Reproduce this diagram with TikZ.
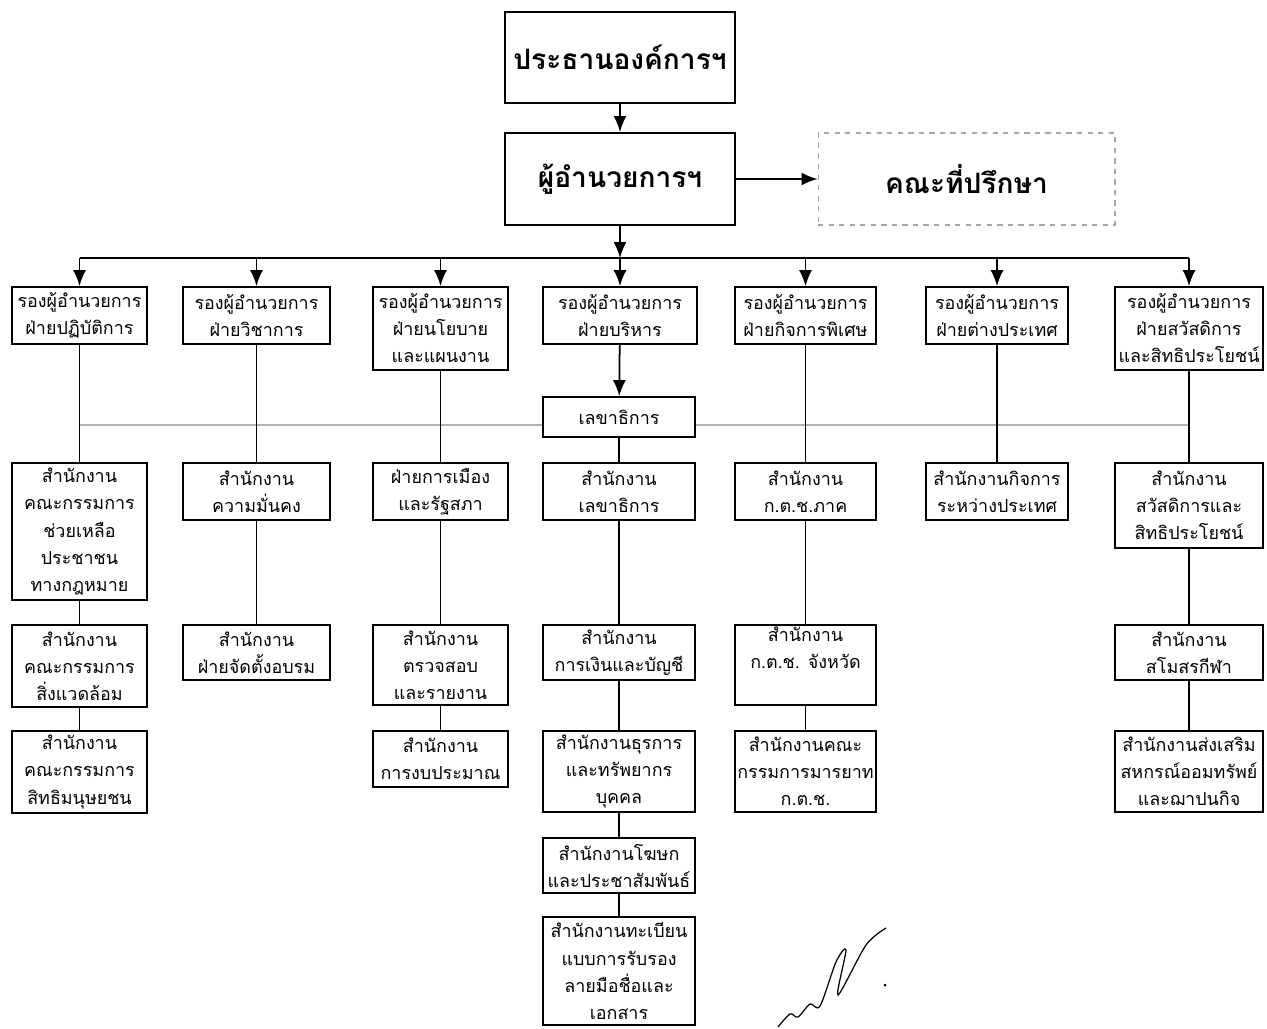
\documentclass[tikz,border=0pt]{standalone}
\usepackage{fontspec}
\newfontfamily\thaifont[Script=Thai]{Loma}
\usetikzlibrary{arrows.meta}

\tikzset{
  unit/.style={draw,line width=1pt,align=center,inner sep=1pt,
    font=\thaifont\fontsize{10.2}{15.4}\selectfont},
  head/.style={draw,line width=1.1pt,align=center,
    font=\thaifont\bfseries\fontsize{16}{20}\selectfont},
  link/.style={line width=1pt},
  arr/.style={line width=1pt,-{Latex[length=3.2mm,width=2.6mm]}},
  faint/.style={gray!60,line width=0.6pt}
}

\begin{document}
\begin{tikzpicture}[x=0.02cm,y=-0.02cm]
	\useasboundingbox (0,0) rectangle (1267,1028);
	% top
	\node[head,minimum width=4.6cm,minimum height=1.82cm] at (620,57.5) (chair) {ประธานองค์การฯ};
	\node[head,minimum width=4.6cm,minimum height=1.84cm] at (620,179) (dir) {ผู้อำนวยการฯ};
	\node[head,draw=gray!70,line width=0.6pt,dashed,minimum width=5.94cm,minimum height=1.84cm] at (966.5,179) (adv) {คณะที่ปรึกษา};
	\draw[arr] (chair) -- (dir);
	\draw[arr] (dir) -- (adv);
	% deputies
	\node[unit,minimum width=2.7cm,minimum height=1.14cm] at (79.5,315.5) (d1) {รองผู้อำนวยการ\\ฝ่ายปฏิบัติการ};
	\node[unit,minimum width=2.94cm,minimum height=1.14cm] at (256.5,315.5) (d2) {รองผู้อำนวยการ\\ฝ่ายวิชาการ};
	\node[unit,minimum width=2.7cm,minimum height=1.66cm] at (440.5,328.5) (d3) {รองผู้อำนวยการ\\ฝ่ายนโยบาย\\และแผนงาน};
	\node[unit,minimum width=3.08cm,minimum height=1.14cm] at (620,315.5) (d4) {รองผู้อำนวยการ\\ฝ่ายบริหาร};
	\node[unit,minimum width=2.82cm,minimum height=1.14cm] at (805.5,315.5) (d5) {รองผู้อำนวยการ\\ฝ่ายกิจการพิเศษ};
	\node[unit,minimum width=2.84cm,minimum height=1.14cm] at (997,315.5) (d6) {รองผู้อำนวยการ\\ฝ่ายต่างประเทศ};
	\node[unit,minimum width=2.96cm,minimum height=1.66cm] at (1189,328.5) (d7) {รองผู้อำนวยการ\\ฝ่ายสวัสดิการ\\และสิทธิประโยชน์};
	\coordinate (bus) at (620,258);
	\draw[arr] (dir) -- (bus);
	\draw[link] (d1.north |- bus) -- (d7.north |- bus);
	\foreach \i in {1,...,7}
		\draw[arr] (d\i.north |- bus) -- (d\i.north);
	\node[unit,minimum width=3.04cm,minimum height=0.8cm] at (619,417) (sec) {เลขาธิการ};
	\draw[arr] (d4) -- (sec);
	\coordinate (mid) at (620,425);
	\draw[faint] (d1 |- mid) -- (sec.west |- mid);
	\draw[faint] (sec.east |- mid) -- (d7 |- mid);
	% second row
	\node[unit,minimum width=2.7cm,minimum height=2.74cm] at (79.5,531.5) (o1) {สำนักงาน\\คณะกรรมการ\\ช่วยเหลือ\\ประชาชน\\ทางกฎหมาย};
	\node[unit,minimum width=2.94cm,minimum height=1.14cm] at (256.5,491.5) (o2) {สำนักงาน\\ความมั่นคง};
	\node[unit,minimum width=2.7cm,minimum height=1.14cm] at (440.5,491.5) (o3) {ฝ่ายการเมือง\\และรัฐสภา};
	\node[unit,minimum width=3.04cm,minimum height=1.14cm] at (619,491.5) (o4) {สำนักงาน\\เลขาธิการ};
	\node[unit,minimum width=2.82cm,minimum height=1.14cm] at (805.5,491.5) (o5) {สำนักงาน\\ก.ต.ช.ภาค};
	\node[unit,minimum width=2.84cm,minimum height=1.14cm] at (997,491.5) (o6) {สำนักงานกิจการ\\ระหว่างประเทศ};
	\node[unit,minimum width=2.96cm,minimum height=1.7cm] at (1189,505.5) (o7) {สำนักงาน\\สวัสดิการและ\\สิทธิประโยชน์};
	% third row
	\node[unit,minimum width=2.7cm,minimum height=1.64cm] at (79.5,666) (p1) {สำนักงาน\\คณะกรรมการ\\สิ่งแวดล้อม};
	\node[unit,minimum width=2.94cm,minimum height=1.1cm] at (256.5,652.5) (p2) {สำนักงาน\\ฝ่ายจัดตั้งอบรม};
	\node[unit,minimum width=2.7cm,minimum height=1.6cm] at (440.5,665) (p3) {สำนักงาน\\ตรวจสอบ\\และรายงาน};
	\node[unit,minimum width=3.04cm,minimum height=1.1cm] at (619,652.5) (p4) {สำนักงาน\\การเงินและบัญชี};
	\node[unit,minimum width=2.82cm,minimum height=1.6cm] at (805.5,665) (p5) {สำนักงาน\\ก.ต.ช. จังหวัด\\\strut};
	\node[unit,minimum width=2.96cm,minimum height=1.1cm] at (1189,652.5) (p7) {สำนักงาน\\สโมสรกีฬา};
	% fourth row and below
	\node[unit,minimum width=2.7cm,minimum height=1.64cm] at (79.5,772) (q1) {สำนักงาน\\คณะกรรมการ\\สิทธิมนุษยชน};
	\node[unit,minimum width=2.7cm,minimum height=1.12cm] at (440.5,759) (q3) {สำนักงาน\\การงบประมาณ};
	\node[unit,minimum width=3.04cm,minimum height=1.62cm] at (619,771.5) (q4) {สำนักงานธุรการ\\และทรัพยากร\\บุคคล};
	\node[unit,minimum width=2.82cm,minimum height=1.62cm] at (805.5,771.5) (q5) {สำนักงานคณะ\\กรรมการมารยาท\\ก.ต.ช.};
	\node[unit,minimum width=2.96cm,minimum height=1.62cm] at (1189,771.5) (q7) {สำนักงานส่งเสริม\\สหกรณ์ออมทรัพย์\\และฌาปนกิจ};
	\node[unit,minimum width=3.04cm,minimum height=1.1cm] at (619,865.5) (r4) {สำนักงานโฆษก\\และประชาสัมพันธ์};
	\node[unit,minimum width=3.04cm,minimum height=2.16cm] at (619,971) (s4) {สำนักงานทะเบียน\\แบบการรับรอง\\ลายมือชื่อและ\\เอกสาร};
	\foreach \a/\b in {d1/o1,o1/p1,p1/q1,d2/o2,o2/p2,d3/o3,o3/p3,p3/q3,
		sec/o4,o4/p4,p4/q4,q4/r4,r4/s4,d5/o5,o5/p5,p5/q5,d6/o6,d7/o7,o7/p7,p7/q7}
		\draw[link] (\a) -- (\b);
	% signature
	\draw[line width=0.7pt] plot[smooth] coordinates {(778,1027) (790,1014) (798,1017) (810,1004) (820,1006) (836,962) (846,950) (838,995) (866,945) (886,928)};
	\fill (885,985) circle (1.5);
\end{tikzpicture}
\end{document}
